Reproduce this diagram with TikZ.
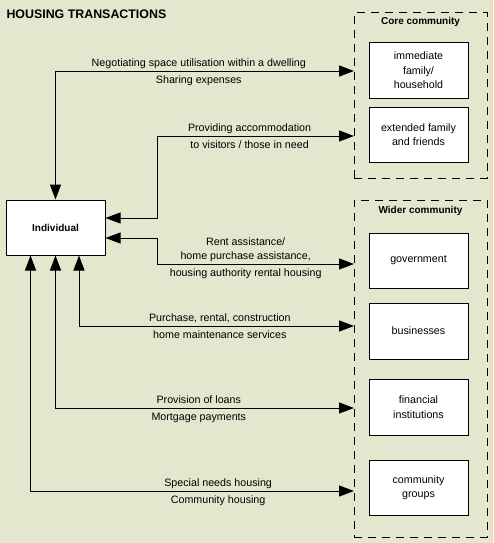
\documentclass[tikz,border=0pt]{standalone}
\usepackage{fontspec}
\setmainfont{Liberation Sans}
\usepackage{tikz}
\usetikzlibrary{arrows.meta,positioning}
\definecolor{paper}{RGB}{226,231,206}
\definecolor{rim}{RGB}{238,224,172}

\begin{document}
\begin{tikzpicture}[x=1pt, y=-1pt, line width=1pt,
        font=\fontsize{10.7}{14.5}\selectfont,
        party/.style={draw, fill=white, minimum width=99pt, minimum height=55pt, align=center, inner sep=0pt},
        community/.style={draw, dash pattern=on 8pt off 6pt, minimum width=133pt, inner sep=0pt},
        flow/.style={{Triangle[length=15pt,width=11pt]}-{Triangle[length=15pt,width=11pt]}},
        upper/.style={above=1.8pt, inner sep=0pt, text depth=2.2pt, align=center},
        lower/.style={below=3.5pt, inner sep=0pt, text height=8pt}]
            \fill[paper] (0,0) rectangle (493,543);
            \fill[rim] (490.5,0) rectangle (493,543);
            \useasboundingbox (0,0) rectangle (493,543);
            \node[anchor=base west, inner sep=0pt, font=\bfseries\fontsize{12.4}{14}\selectfont] (title) at (6,19) {HOUSING TRANSACTIONS};

            % the two communities
            \node[community, minimum height=165pt] (core) at (420.5,95.5) {};
            \node[community, minimum height=337pt] (wider) at (420.5,368.5) {};
            \node[font=\bfseries] at ([yshift=-9.5pt]core.north) {Core community};
            \node[font=\bfseries] at ([yshift=-11pt]wider.north) {Wider community};
            \node[party] (family) at (418.5,70.5) {immediate\\family/\\household};
            \node[party] (extended) at (418.5,134.5) {extended family\\and friends};
            \node[party] (govt) at (418.5,260.5) {government};
            \node[party, minimum height=56pt] (business) at (418.5,331) {businesses};
            \node[party, minimum height=56pt] (finance) at (418.5,407) {financial\\institutions};
            \node[party] (groups) at (418.5,487.5) {community\\groups};
            \node[party, font=\bfseries] (indiv) at (55.5,227.5) {Individual};

            % ends of the transactions
            \coordinate (riser) at (157,0);
            \coordinate (e1) at (354,71);
            \coordinate (e2) at (354,136);
            \coordinate (e3) at (354,264);
            \coordinate (e4) at (354,326);
            \coordinate (e5) at (354,408);
            \coordinate (e6) at (354,491);

            \draw[flow] (indiv.north) |- (e1) node[pos=0.74, upper] {Negotiating space utilisation within a dwelling} node[pos=0.74, lower] {Sharing expenses};
            \draw[flow] ([yshift=9.5pt]indiv.east) -| (riser |- e2) -- (e2) node[pos=0.47, upper] {Providing accommodation} node[pos=0.47, lower] {to visitors / those in need};
            \draw[flow] ([yshift=-10.5pt]indiv.east) -| (riser |- e3) -- (e3) node[pos=0.45, upper] {Rent assistance/\\home purchase assistance,} node[pos=0.45, lower] {housing authority rental housing};
            \draw[flow] ([xshift=23.5pt]indiv.south) |- (e4) node[pos=0.756, upper] {Purchase, rental, construction} node[pos=0.756, lower] {home maintenance services};
            \draw[flow] (indiv.south) |- (e5) node[pos=0.74, upper] {Provision of loans} node[pos=0.74, lower] {Mortgage payments};
            \draw[flow] ([xshift=-25pt]indiv.south) |- (e6) node[pos=0.79, upper] {Special needs housing} node[pos=0.79, lower] {Community housing};
        \end{tikzpicture}
\end{document}
